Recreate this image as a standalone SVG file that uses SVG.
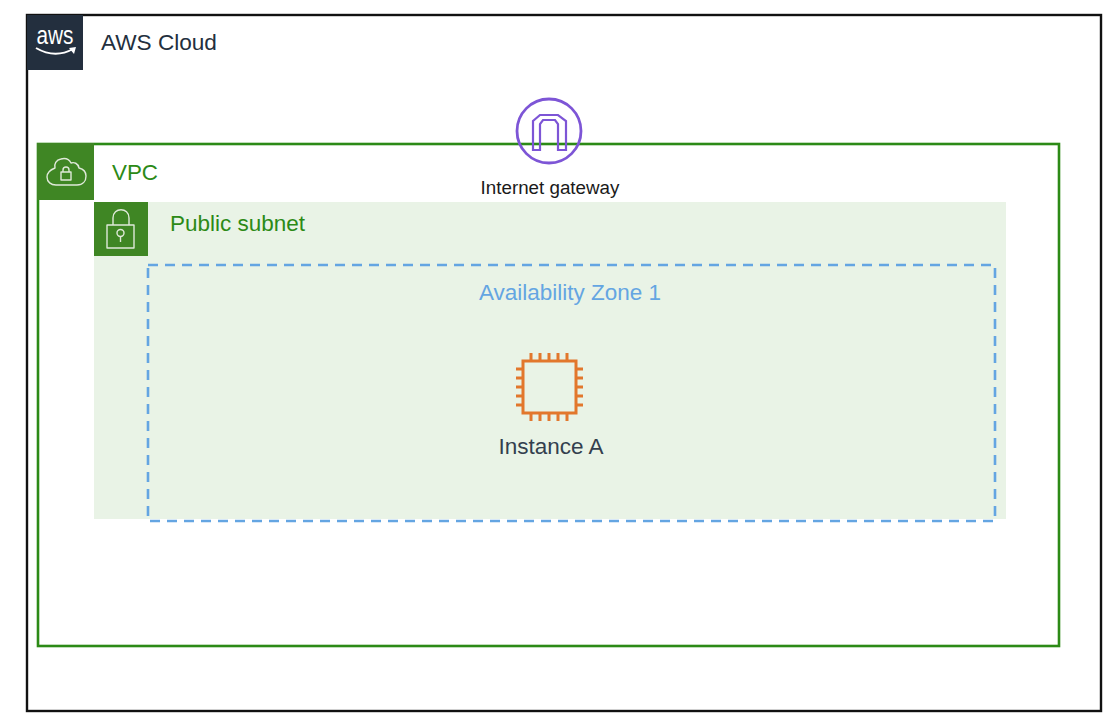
<svg xmlns="http://www.w3.org/2000/svg" width="1109" height="723" viewBox="0 0 1109 723">
<style>
text{font-family:"Liberation Sans",Arial,sans-serif}
.ic{fill:none;stroke:#dfe9d9;stroke-width:1.4;stroke-linejoin:round}
.chip{fill:none;stroke:#e2772c;stroke-width:3}
.igw{fill:none;stroke:#7d55d6;stroke-width:2.800}
.arch{fill:none;stroke:#7d55d6;stroke-width:2.200}
</style>
<rect width="1109" height="723" fill="#fff"/>
<g id="aws-cloud">
<rect x="27" y="15" width="1074" height="696" fill="#fff" stroke="#111" stroke-width="2.400"/>
<rect x="27" y="15" width="56" height="55" fill="#232f3e"/>
<text x="55" y="44" font-size="26" fill="#fff" text-anchor="middle" textLength="37" lengthAdjust="spacingAndGlyphs">aws</text>
<path d="M36 48Q55 59 73 49" fill="none" stroke="#fff" stroke-width="2"/>
<path d="M69 48L76 47L74 54Z" fill="#fff"/>
<text x="101" y="50" font-size="22.600" fill="#232f3e">AWS Cloud</text>
</g>
<g id="vpc">
<rect x="38" y="144" width="1021" height="502" fill="#fff" stroke="#2c8a16" stroke-width="2.600"/>
<rect x="37" y="143" width="57" height="57" fill="#3f8624"/>
<path class="ic" d="M56 185H77C83 185 86 181 86 176C86 172 83 169 79 168C78 163 74 162 71 163C69 159 65 158 61 159C56 160 54 164 55 168C50 170 47 173 47 177C47 182 51 185 56 185Z"/>
<rect class="ic" x="61" y="172" width="10" height="8"/>
<path class="ic" d="M63 172V170C63 166 69 166 69 170V172"/>
<text x="112" y="180" font-size="22.400" fill="#2c8a16">VPC</text>
</g>
<g id="public-subnet">
<rect x="94" y="202" width="912" height="317" fill="#e9f3e6"/>
<rect x="94" y="202" width="54" height="54" fill="#3f8624"/>
<rect class="ic" x="107" y="225" width="27" height="23"/>
<path class="ic" d="M113 225V218C113 207 129 207 129 218V225"/>
<circle class="ic" cx="120.500" cy="233" r="3.500"/>
<path class="ic" d="M120.500 236.500V242"/>
<text x="170" y="231" font-size="22.500" fill="#2c8a16">Public subnet</text>
</g>
<g id="availability-zone-1">
<rect x="148" y="265" width="847" height="256" fill="none" stroke="#64a5e2" stroke-width="2.600" stroke-dasharray="10 7"/>
<text x="570" y="300" font-size="22.500" fill="#64a5e2" text-anchor="middle">Availability Zone 1</text>
</g>
<g id="internet-gateway">
<circle class="igw" cx="549" cy="131" r="32"/>
<path class="arch" d="M533 150V121L540 115H558L566 121V150H558V124L555 120H543L540 124V150Z"/>
<text x="550" y="194" font-size="18.800" fill="#1a1a1a" text-anchor="middle">Internet gateway</text>
</g>
<g id="instance-a">
<rect class="chip" x="523" y="361" width="53" height="52"/>
<path class="chip" d="M531 361V353M540 361V353M549 361V353M558 361V353M567 361V353M531 413V421M540 413V421M549 413V421M558 413V421M567 413V421M523 369H516M523 378H516M523 387H516M523 396H516M523 405H516M576 369H583M576 378H583M576 387H583M576 396H583M576 405H583"/>
<text x="551" y="454" font-size="22.500" fill="#333f4e" text-anchor="middle">Instance A</text>
</g>
<g id="connectors"></g>
</svg>
